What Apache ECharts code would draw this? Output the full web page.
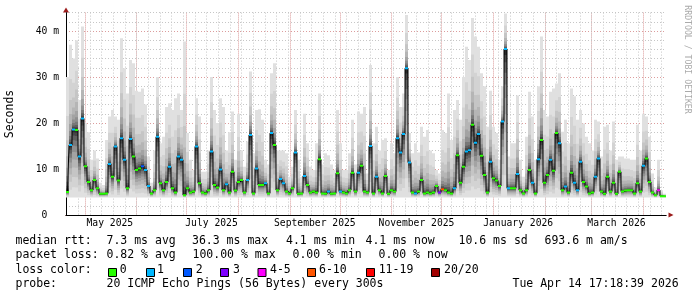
<!DOCTYPE html>
<html><head><meta charset="utf-8">
<script src="https://cdn.jsdelivr.net/npm/echarts@6/dist/echarts.min.js"></script>
<style>html,body{margin:0;padding:0;background:#fff}#c{width:697px;height:297px}</style>
</head><body><div id="c"></div>
<script>
// ---- time frame ----
const DAY = 86400000;
const END = Date.UTC(2026, 3, 14, 17, 18, 39);
const SPAN_DAYS = 360;
const START = END - SPAN_DAYS * DAY;

// ---- data (ms), one value per ~1.8 day column ----
const MED = [
 5.0,15.2,18.6,18.5,12.7,21.0,10.6,7.2,5.4,7.6,
 5.8,4.6,4.6,4.7,11.1,8.3,14.9,7.5,16.7,12.0,
 5.8,16.5,12.7,9.8,10.1,10.6,9.8,6.3,4.7,5.4,
 17.0,6.9,5.4,7.2,10.5,5.8,4.9,12.7,12.0,4.3,
 5.8,4.9,5.1,14.9,6.9,4.9,4.7,5.4,13.8,6.5,
 6.0,9.9,5.4,6.7,4.9,9.4,5.3,7.2,7.6,4.9,
 7.6,17.4,4.7,10.1,6.5,6.5,6.9,4.7,17.8,15.2,
 5.4,7.8,6.9,5.1,4.7,5.8,13.6,4.6,4.7,8.5,
 6.5,4.9,5.1,4.9,12.1,4.7,4.6,5.1,4.6,4.7,
 9.1,5.1,4.9,4.7,5.4,9.2,5.1,9.2,10.7,5.1,
 4.9,15.0,4.7,8.3,5.4,4.7,8.5,4.6,5.4,5.1,
 16.7,13.6,17.6,31.9,11.4,4.9,4.7,5.1,7.6,4.7,
 4.9,4.7,4.9,6.3,4.9,5.6,5.4,4.9,4.7,5.8,
 13.0,7.0,10.5,13.8,14.1,19.6,15.7,17.6,12.9,8.7,
 4.9,11.6,8.0,7.5,6.3,20.3,36.1,5.8,5.8,5.8,
 8.9,5.4,4.7,5.4,9.8,7.0,4.7,12.1,16.3,7.0,
 8.7,12.0,9.6,17.8,15.6,5.4,6.2,4.9,9.2,7.0,
 5.4,11.6,7.2,6.2,4.7,4.9,8.3,12.3,5.1,4.6,
 8.3,5.1,7.0,4.6,9.4,5.1,5.3,5.4,5.4,4.7,
 6.9,5.1,10.7,12.3,7.2,4.9,4.3,5.4,4.1,4.1
];
const TOP = [
 30,37,34,38,25,41,20,18,12,14,
 12.3,7,6.5,16.3,21.4,22.8,21.4,20.7,38.4,31.9,
 26.4,33.7,33,27,26.8,27.5,24,12.7,7,14,
 30,15.6,17,23.5,24.3,22.8,25.4,26.4,22.8,37.7,
 17.8,12,9.8,25.4,21.4,9.4,9.4,14,30,22.8,
 20,25.4,23.5,14,18,22.5,12,22,14,10.5,
 16,31.2,13.4,22.8,23,20.7,12,11,30.8,33,
 14,14,14,13.4,8.3,10.5,22.8,12,8.3,22,
 15.6,10.5,9.8,15.6,26.4,11,13.4,13,11,9.8,
 22.8,15.6,9.8,9.8,13.4,20.7,11,22.5,22,23.5,
 9,32.6,15.6,19.2,14,16.3,16.7,9.8,15.6,13.4,
 30,23.5,26.4,43.5,17.8,13.4,15.6,13.6,19.2,17,
 18.5,14,13.4,9.8,9,18.5,17.8,26.4,16.3,22.8,
 25,20.7,30,36.6,33.7,42.8,38.8,36.6,30.8,28,
 19.2,27,19.2,17.8,12,28,43.8,12.7,15.6,15.6,
 26,12,8.3,17,26.8,21.4,12,28,38.8,22.8,
 21.4,26.8,27.5,28.6,30.8,18.1,20.7,15.6,27.5,25.8,
 20.7,22.8,19.9,17,15.6,14,20.7,20.3,12.7,19.2,
 19.6,14,20.3,12,12.7,12.7,12.3,12.3,12,12,
 19.6,14,22,21.4,17,9,6,12,5.4,4.6
];
// loss class index: 0:'0' 1:'1' 2:'2' 3:'3' 4:'4-5' 5:'6-10' 6:'11-19' 7:'20/20'
const LOSS = [
 0,1,1,0,1,1,0,0,0,0, 0,0,0,0,1,0,1,0,1,1, 0,1,0,0,0,2,1,1,0,0, 1,0,0,0,1,0,0,1,1,0,
 0,0,0,1,0,0,0,0,1,0, 0,1,0,1,0,0,0,0,0,0, 1,1,0,1,0,0,1,0,1,0, 0,1,1,0,0,0,1,0,0,1,
 0,0,0,0,0,0,0,1,0,0, 0,1,0,0,0,0,0,1,0,0, 0,1,0,1,0,0,0,0,0,0, 1,1,1,1,1,0,1,0,0,0,
 0,0,0,0,3,5,0,0,0,1, 0,0,0,1,1,0,1,1,0,0, 0,1,0,0,0,1,1,1,0,0, 1,0,0,0,0,1,0,1,0,0,
 0,1,0,0,1,0,1,0,0,1, 1,1,0,0,0,0,1,1,0,0, 0,0,0,0,0,0,0,0,0,0, 0,0,1,0,0,0,0,4,0,0
];
const LOW_PING = 3.8;

const LOSS_LABELS = ['0','1','2','3','4-5','6-10','11-19','20/20'];
const LOSS_COLORS = ['#26ff00','#00b8ff','#0059ff','#7e00ff','#ff00ff','#ff5500','#ff0000','#a10000'];

const X_LABELS = ['May 2025','July 2025','September 2025','November 2025','January 2026','March 2026'];
const X_LABEL_MONTHS = [[2025,4],[2025,6],[2025,8],[2025,10],[2026,0],[2026,2]];
const Y_MAX = 44;

// ---- derived tick positions ----
const X_LABEL_TIMES = X_LABEL_MONTHS.map(([y,m]) => Date.UTC(y,m,1) + 15*DAY);
const MONTH_STARTS = [];
for (let y = 2025, m = 4; Date.UTC(y,m,1) < END; m++) { if (m > 11) { m = 0; y++; } if (Date.UTC(y,m,1) < END) MONTH_STARTS.push(Date.UTC(y,m,1)); }
const SUNDAYS = [];
for (let s = Date.UTC(2025,3,20); s < END; s += 7*DAY) SUNDAYS.push(s);

const N = MED.length;
const STEP = (END - START) / N;
const T = MED.map((_, i) => START + (i + 0.5) * STEP);

const MONO = '"DejaVu Sans Mono", monospace';
const GRID_MINOR = '#c6c6c6';
const GRID_MAJOR = '#dc9c9c';
const ARROW = '#9b1c1c';
const GREYS = ['#e0e0e0','#d3d3d3','#c5c5c5','#b5b5b5','#a3a3a3','#8f8f8f','#787878','#5f5f5f','#454545','#2a2a2a'];
const UPF = [1, 0.66, 0.45, 0.31, 0.21, 0.14, 0.09, 0.055, 0.03, 0.012];
const DNF = [1, 0.85, 0.7, 0.56, 0.44, 0.33, 0.24, 0.16, 0.09, 0.04];

function colX(api, t) {
  return [Math.round(api.coord([t - STEP/2, 0])[0]), Math.round(api.coord([t + STEP/2, 0])[0])];
}
function renderSmoke(params, api) {
  const t = api.value(0), med = api.value(1), top = api.value(2);
  const [xa, xb] = colX(api, t);
  const children = [];
  for (let k = 0; k < GREYS.length; k++) {
    const hi = med + (top - med) * UPF[k];
    const lo = med - (med - LOW_PING) * DNF[k];
    const yHi = api.coord([t, hi])[1], yLo = api.coord([t, lo])[1];
    children.push({type:'rect', shape:{x:xa, y:yHi, width:xb-xa, height:Math.max(0.5, yLo-yHi)}, style:{fill:GREYS[k]}});
  }
  return {type:'group', children};
}
function renderMarker(params, api) {
  const t = api.value(0), med = api.value(1), loss = api.value(2);
  const [xa, xb] = colX(api, t);
  const y = api.coord([t, med])[1];
  return {type:'rect', shape:{x:xa, y:y-1, width:xb-xa, height:2}, style:{fill:LOSS_COLORS[loss]}};
}

// ---- legend / texts ----
const graphic = [];
function txt(text, x, y, size, extra) {
  graphic.push(Object.assign({type:'text', x, y, silent:true,
    style:{text, fill:'#000', fontFamily:MONO, fontSize:size, align:'left', verticalAlign:'middle'}}, extra || {}));
}
const ROWS = [
  [241,   [['median rtt:',15.5],['7.3 ms avg',106.5],['36.3 ms max',192],['4.1 ms min',286],['4.1 ms now',365.5],['10.6 ms sd',458.5],['693.6 m am/s',544.5]]],
  [255.3, [['packet loss:',15.5],['0.82 % avg',106.5],['100.00 % max',192.5],['0.00 % min',292.5],['0.00 % now',378.5]]],
  [270,   [['loss color:',15.5]]],
  [284.3, [['probe:',15.5],['20 ICMP Echo Pings (56 Bytes) every 300s',106.5],['Tue Apr 14 17:18:39 2026',512.5]]]
];
ROWS.forEach(([y, items]) => items.forEach(([s, x]) => txt(s, x, y, 11.5)));
const SW_X = [108,146,183,220,257.5,307,366,431];
const SW_TX = [119.7,157,195.7,233,270,319,378.7,444];
LOSS_LABELS.forEach((lab, i) => {
  graphic.push({type:'rect', silent:true, shape:{x:SW_X[i]+0.5, y:268.5, width:8, height:8}, style:{fill:LOSS_COLORS[i], stroke:'#000', lineWidth:1}});
  txt(lab, SW_TX[i], 270, 11.5);
});
txt('Seconds', 10.5, 114, 11.5, {rotation: Math.PI/2, style:{text:'Seconds', fill:'#000', fontFamily:MONO, fontSize:11.5, align:'center', verticalAlign:'middle'}});
txt('RRDTOOL / TOBI OETIKER', 687, 59.5, 8.2, {rotation: -Math.PI/2, style:{text:'RRDTOOL / TOBI OETIKER', fill:'#aaaaaa', fontFamily:MONO, fontSize:8.2, align:'center', verticalAlign:'middle'}});

const chart = echarts.init(document.getElementById('c'), null, {renderer:'canvas', width:697, height:297});
chart.setOption({
  animation: false,
  backgroundColor: '#ffffff',
  grid: {left:66, top:12.6, width:600, height:202.4},
  xAxis: [
    {type:'value', min:START, max:END, position:'bottom', z:1,
     axisLine:{show:true, onZero:false, lineStyle:{color:'#000', width:1}},
     axisTick:{show:false, customValues:SUNDAYS},
     axisLabel:{show:true, customValues:X_LABEL_TIMES, color:'#000', fontFamily:MONO, fontSize:9.7, margin:3,
       formatter:(v, idx) => { const i = X_LABEL_TIMES.indexOf(v); return X_LABELS[i >= 0 ? i : idx]; }},
     splitLine:{show:true, lineStyle:{color:GRID_MINOR, width:1, type:[1,2]}}},
    {type:'value', min:START, max:END, position:'bottom', z:0,
     axisLine:{show:true, onZero:false, symbol:['none','triangle'], symbolSize:[5,5], symbolOffset:[0,5], lineStyle:{color:ARROW, width:1}},
     axisTick:{show:false, customValues:MONTH_STARTS},
     axisLabel:{show:false},
     splitLine:{show:true, lineStyle:{color:GRID_MAJOR, width:1, type:[1,1]}}}
  ],
  yAxis: [
    {type:'value', min:0, max:Y_MAX, interval:2, position:'left', z:1,
     axisLine:{show:true, onZero:false, lineStyle:{color:'#000', width:1}},
     axisTick:{show:false},
     axisLabel:{color:'#000', fontFamily:MONO, fontSize:9.7, margin:7,
       formatter:(v) => (v % 10 === 0 && v <= 40) ? (v === 0 ? '0  ' : v + ' m') : ''},
     splitLine:{show:true, lineStyle:{color:[GRID_MAJOR, GRID_MINOR, GRID_MINOR, GRID_MINOR, GRID_MINOR], width:1, type:[1,2]}}},
    {type:'value', min:0, max:Y_MAX, position:'left', z:0,
     axisLine:{show:true, onZero:false, symbol:['none','triangle'], symbolSize:[6,5], symbolOffset:[0,2.5], lineStyle:{color:ARROW, width:1}},
     axisTick:{show:false}, axisLabel:{show:false}, splitLine:{show:false}}
  ],
  series: [
    {type:'custom', name:'smoke', xAxisIndex:0, yAxisIndex:0, z:2, silent:true, clip:true,
     renderItem:renderSmoke, data:MED.map((m, i) => [T[i], m, TOP[i]])},
    {type:'line', name:'median', xAxisIndex:0, yAxisIndex:0, z:3, silent:true, step:'middle',
     showSymbol:false, symbol:'none', lineStyle:{color:'#000', width:1}, data:MED.map((m, i) => [T[i], m])},
    {type:'custom', name:'loss', xAxisIndex:0, yAxisIndex:0, z:4, silent:true, clip:true,
     renderItem:renderMarker, data:MED.map((m, i) => [T[i], m, LOSS[i]])}
  ],
  graphic: graphic
});
</script></body></html>
